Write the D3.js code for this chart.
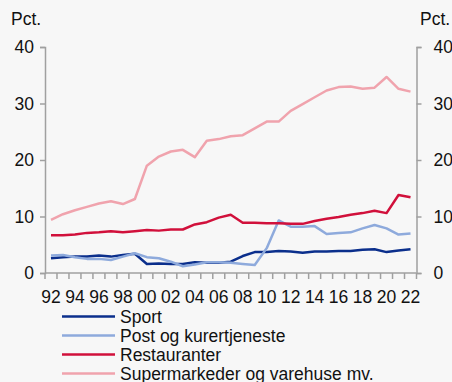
<!DOCTYPE html>
<html>
<head>
<meta charset="utf-8">
<script src="https://cdn.jsdelivr.net/npm/d3@7/dist/d3.min.js"></script>
<style>
  html, body { margin: 0; padding: 0; background: #f7f7f7; }
  svg { display: block; }
  text { font-family: "Liberation Sans", Arial, sans-serif; fill: #111; }
</style>
</head>
<body>
<svg id="chart" width="452" height="382"></svg>
<script>
const years = d3.range(1992, 2023);
const tickLabels = ["92","94","96","98","00","02","04","06","08","10","12","14","16","18","20","22"];
const yTicks = [0, 10, 20, 30, 40];

const sport = [2.6,2.8,2.9,2.9,3.1,2.9,3.2,3.4,1.6,1.7,1.6,1.6,1.9,1.8,1.8,2.0,3.0,3.7,3.7,3.9,3.8,3.6,3.8,3.8,3.9,3.9,4.1,4.2,3.7,4.0,4.2];
const post = [3.1,3.2,2.8,2.5,2.5,2.3,2.9,3.5,2.8,2.6,2.0,1.2,1.5,1.9,1.9,1.8,1.6,1.4,4.4,9.3,8.2,8.2,8.3,6.9,7.1,7.2,7.9,8.5,7.9,6.8,7.0];
const restaurants = [6.7,6.7,6.8,7.1,7.2,7.4,7.2,7.4,7.6,7.5,7.7,7.7,8.6,9.0,9.8,10.3,8.9,8.9,8.8,8.8,8.7,8.7,9.2,9.6,9.9,10.3,10.6,11.0,10.6,13.8,13.4];
const supermarkets = [9.4,10.4,11.1,11.7,12.3,12.7,12.2,13.1,19.0,20.6,21.5,21.8,20.5,23.4,23.7,24.2,24.4,25.6,26.8,26.8,28.7,29.9,31.1,32.3,32.9,33.0,32.6,32.8,34.7,32.6,32.1];

const seriesNames = ["Sport", "Post og kurertjeneste", "Restauranter", "Supermarkeder og varehuse mv."];
const seriesValues = [sport, post, restaurants, supermarkets];
const seriesColors = ["#0b2f8c", "#8eaadc", "#d1103b", "#f0a3ad"];

const svg = d3.select("#chart");
const plotLeft = 45, plotRight = 416.5, plotTop = 47, plotBottom = 273;

const x = d3.scaleBand().domain(years).range([plotLeft, plotRight]);
const y = d3.scaleLinear().domain([0, 40]).range([plotBottom, plotTop]);

const axisColor = "#a0a0a0";
const fontSize = "17.5px";

// y axes (left and right)
const yLeft = svg.append("g").attr("transform", `translate(${plotLeft},0)`)
  .call(d3.axisLeft(y).tickValues(yTicks).tickSize(5).tickPadding(4));
const yRight = svg.append("g").attr("transform", `translate(${plotRight},0)`)
  .call(d3.axisRight(y).tickValues(yTicks).tickSize(5).tickPadding(12));
[yLeft, yRight].forEach(g => {
  g.select(".domain").attr("stroke", axisColor).attr("stroke-width", 1.5);
  g.selectAll(".tick line").attr("stroke", axisColor).attr("stroke-width", 1.5);
  g.selectAll(".tick text").style("font-size", fontSize).attr("fill", "#111");
});
yLeft.selectAll(".tick text").attr("x", -11);

// x axis: ticks at every year boundary, labels every other year
const xg = svg.append("g").attr("transform", `translate(0,${plotBottom})`);
xg.append("line").attr("x1", plotLeft).attr("x2", plotRight).attr("y1", 0).attr("y2", 0)
  .attr("stroke", axisColor).attr("stroke-width", 1.5);
xg.selectAll("line.tk").data(years.concat([2023])).join("line")
  .attr("class", "tk")
  .attr("x1", d => d === 2023 ? plotRight : x(d)).attr("x2", d => d === 2023 ? plotRight : x(d))
  .attr("y1", 0).attr("y2", 6)
  .attr("stroke", axisColor).attr("stroke-width", 1.5);
xg.selectAll("text").data(tickLabels).join("text")
  .attr("x", (d, i) => x(years[i * 2]) + x.bandwidth() / 2)
  .attr("y", 30)
  .attr("text-anchor", "middle")
  .style("font-size", fontSize)
  .text(d => d);

// unit labels
svg.append("text").attr("x", 11).attr("y", 25).style("font-size", fontSize).text("Pct.");
svg.append("text").attr("x", 420).attr("y", 25).style("font-size", fontSize).text("Pct.");

// lines
const line = d3.line()
  .x((d, i) => x(years[i]) + x.bandwidth() / 2)
  .y(d => y(d));

svg.append("g").selectAll("path").data(seriesValues).join("path")
  .attr("d", d => line(d))
  .attr("fill", "none")
  .attr("stroke", (d, i) => seriesColors[i])
  .attr("stroke-width", 2.5)
  .attr("stroke-linejoin", "round");

// legend
const legend = svg.append("g");
const rows = legend.selectAll("g").data(seriesNames).join("g")
  .attr("transform", (d, i) => `translate(62,${316.5 + i * 19})`);
rows.append("line").attr("x1", 0).attr("x2", 53).attr("y1", 0).attr("y2", 0)
  .attr("stroke", (d, i) => seriesColors[i]).attr("stroke-width", 2.5);
rows.append("text").attr("x", 58).attr("y", 6).style("font-size", fontSize).text(d => d);
</script>
</body>
</html>
